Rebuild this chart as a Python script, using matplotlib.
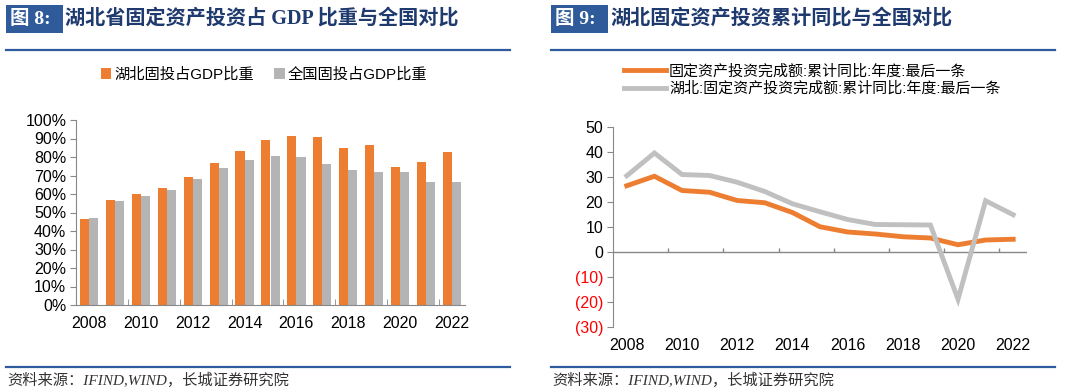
import matplotlib.pyplot as plt
from matplotlib.patches import Rectangle
from matplotlib.lines import Line2D
import numpy as np

plt.rcParams['font.family'] = ['Liberation Sans', 'Noto Sans CJK SC', 'DejaVu Sans']

years = [str(y) for y in range(2008, 2023)]
hubei_share = [46.5, 56.6, 59.8, 63.1, 69.0, 76.9, 83.1, 89.2, 91.4, 90.8, 85.0, 86.3, 74.4, 77.5, 82.9]
nation_share = [46.8, 56.0, 58.9, 62.2, 68.1, 73.9, 78.4, 80.4, 80.2, 76.4, 73.2, 71.9, 71.9, 66.7, 66.5]

nation_growth = [26.5, 30.3, 24.6, 23.9, 20.6, 19.7, 15.8, 10.1, 8.0, 7.2, 6.1, 5.6, 2.9, 4.8, 5.1]
hubei_growth = [30.5, 39.6, 31.0, 30.6, 27.9, 24.2, 19.3, 16.1, 13.0, 11.0, 10.9, 10.8, -18.9, 20.5, 14.9]

bar_labels = ['湖北固投占GDP比重', '全国固投占GDP比重']
line_labels = ['固定资产投资完成额:累计同比:年度:最后一条', '湖北:固定资产投资完成额:累计同比:年度:最后一条']

ORANGE = '#ED7D31'
GRAY = '#B4B4B4'
LGRAY = '#C0C0C0'
BLUE = '#2E5C9E'
NAVY = '#1F3A6E'
W, H = 1080, 389

fig = plt.figure(figsize=(W / 100, H / 100), dpi=100)


def fx(px):
    return px / W


def fy(py):
    return 1 - py / H


def header(x0, x1, num, title):
    fig.patches.append(Rectangle((fx(x0), fy(33)), fx(57), 28 / H, transform=fig.transFigure,
                                 facecolor='#2F5B9A', edgecolor='none'))
    fig.text(fx(x0 + 4), fy(19), '图 ' + num + ':', color='white', fontsize=14, fontweight='bold',
             va='center', family=['Liberation Serif', 'Noto Sans CJK SC'])
    fig.text(fx(x0 + 59), fy(19), title, color=NAVY, fontsize=14.5, fontweight='bold',
             va='center', family=['Liberation Serif', 'Noto Sans CJK SC'])
    fig.add_artist(Line2D([fx(x0), fx(x1)], [fy(50), fy(50)], color=BLUE, lw=1.6))
    fig.add_artist(Line2D([fx(x0), fx(x1)], [fy(367), fy(367)], color=BLUE, lw=1.6))
    fig.text(fx(x0 + 1), fy(380), '资料来源：IFIND,WIND，长城证券研究院', color='#333333', fontsize=11,
             va='center', style='italic', family=['Liberation Serif', 'Noto Sans CJK SC'])


header(6, 510, '8', '湖北省固定资产投资占 GDP 比重与全国对比')
header(551, 1055, '9', '湖北固定资产投资累计同比与全国对比')

# left: bars
ax1 = fig.add_axes([fx(76), fy(305), fx(465 - 76), (305 - 120) / H])
x = np.arange(len(years))
bw = 0.35
ax1.bar(x - bw / 2, np.array(hubei_share) / 100, bw, color=ORANGE, label=bar_labels[0])
ax1.bar(x + bw / 2, np.array(nation_share) / 100, bw, color=GRAY, label=bar_labels[1])
ax1.set_xlim(-0.5, len(years) - 0.5)
ax1.set_ylim(0, 1.0)
ax1.set_yticks(np.arange(0, 1.01, 0.1))
ax1.set_yticklabels([f'{int(round(v * 100))}%' for v in np.arange(0, 1.01, 0.1)])
ax1.set_xticks(x[::2])
ax1.set_xticklabels(years[::2])
ax1.set_xticks(np.arange(-0.5, len(years), 2), minor=True)
ax1.tick_params(axis='x', which='major', length=0, pad=8, labelsize=11.5)
ax1.tick_params(axis='x', which='minor', length=4, direction='in', color='#888888')
ax1.tick_params(axis='y', length=4, color='#888888', labelsize=11.5, pad=3)
for s in ['top', 'right']:
    ax1.spines[s].set_visible(False)
for s in ['left', 'bottom']:
    ax1.spines[s].set_color('#888888')
ax1.legend(loc='center', bbox_to_anchor=(fx(264), fy(75)), bbox_transform=fig.transFigure,
           ncol=2, frameon=False, fontsize=11, handlelength=0.7, handleheight=0.7,
           handletextpad=0.2, columnspacing=1.3)

# right: lines
ax2 = fig.add_axes([fx(613), fy(327), fx(1027 - 613), 200 / H])
ax2.plot(x, nation_growth, color=ORANGE, lw=3.5, label=line_labels[0], solid_joinstyle='miter')
ax2.plot(x, hubei_growth, color=LGRAY, lw=3.5, label=line_labels[1], solid_joinstyle='miter')
ax2.set_xlim(-0.5, len(years) - 0.5)
ax2.set_ylim(-30, 50)
yt = np.arange(-30, 51, 10)
ax2.set_yticks(yt)
ax2.set_yticklabels([f'({-v})' if v < 0 else str(v) for v in yt])
for lab, v in zip(ax2.get_yticklabels(), yt):
    if v < 0:
        lab.set_color('red')
ax2.axhline(0, color='#888888', lw=1, zorder=1)
ax2.vlines(np.arange(1.5, len(years), 2), 0, 1.6, color='#888888', lw=1, zorder=1)
ax2.set_xticks(x[::2])
ax2.set_xticklabels(years[::2])
ax2.tick_params(axis='x', length=0, pad=8, labelsize=11.5)
ax2.tick_params(axis='y', length=4, color='#888888', labelsize=11.5, pad=3)
for s in ['top', 'right', 'bottom']:
    ax2.spines[s].set_visible(False)
ax2.spines['left'].set_color('#888888')
ax2.legend(loc='upper left', bbox_to_anchor=(fx(624), fy(64)), bbox_transform=fig.transFigure,
           frameon=False, fontsize=10.8, handlelength=2.8, handletextpad=0.2,
           labelspacing=0.2, borderaxespad=0, borderpad=0)

fig.savefig('out.png', dpi=100)
